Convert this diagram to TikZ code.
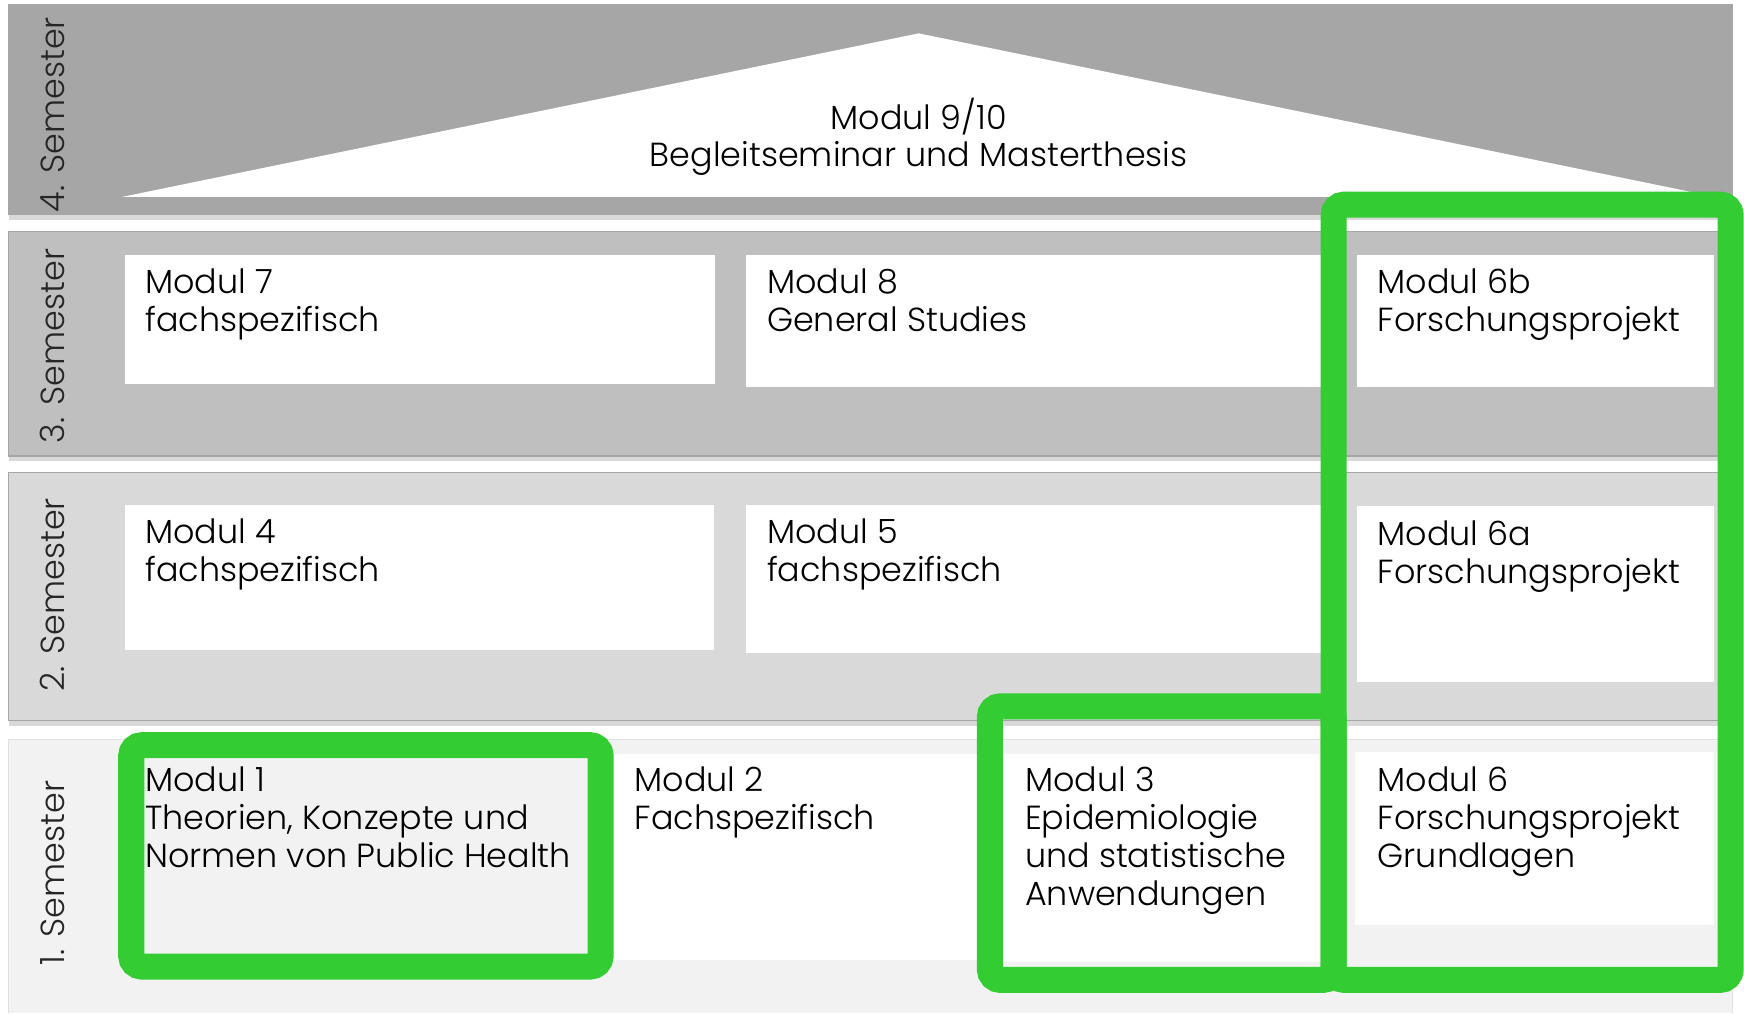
\documentclass[tikz,border=0pt]{standalone}
\usepackage{fontspec}
\setmainfont{Poppins}[UprightFont=* Light]
\usetikzlibrary{shadows}

\definecolor{semfour}{HTML}{A6A6A6}
\definecolor{semthree}{HTML}{BFBFBF}
\definecolor{semtwo}{HTML}{D9D9D9}
\definecolor{semone}{HTML}{F2F2F2}
\definecolor{hlgreen}{HTML}{33CC33}

\begin{document}
\begin{tikzpicture}[x=0.01112cm, y=-0.01112cm,
    band/.style={draw=black!35, line width=0.3pt,
      drop shadow={shadow xshift=0pt, shadow yshift=-1.5pt, opacity=0.3}},
    modbox/.style={fill=white},
    modtext/.style={anchor=north west, align=left, inner sep=0pt,
      font=\fontsize{9.5}{10.8}\selectfont, text=black},
    semtext/.style={rotate=90, inner sep=0pt,
      font=\fontsize{9.5}{11}\selectfont, text=black!85},
    hilite/.style={draw=hlgreen, line width=7.4pt, rounded corners=3pt}]
  \useasboundingbox (0,0) rectangle (1568,911);

  % semester bands
  \path[band, fill=semfour] (8,4) rectangle (1558,193);
  \path[band, fill=semthree] (8,208) rectangle (1558,410);
  \path[band, fill=semtwo] (8,425) rectangle (1558,648);
  \path[fill=semone] (8,665) rectangle (1558,911);
  \draw[black!12, line width=0.3pt] (8,911) -- (8,665) -- (1558,665) -- (1558,911);

  \node[semtext] (s4) at (47,103) {4. Semester};
  \node[semtext] (s3) at (47,311) {3. Semester};
  \node[semtext] (s2) at (47,535) {2. Semester};
  \node[semtext] (s1) at (47,785) {1. Semester};

  % roof
  \fill[white] (110,177) -- (826,30) -- (1542,177) -- cycle;
  \node[modtext, anchor=center, align=center] (m9) at (826,123)
    {Modul 9/10\\Begleitseminar und Masterthesis};

  % 3. semester
  \fill[modbox] (112,229) rectangle (643,345);
  \fill[modbox] (671,229) rectangle (1190,348);
  \fill[modbox] (1220,229) rectangle (1541,348);
  \node[modtext] (m7) at (130,241) {Modul 7\\fachspezifisch};
  \node[modtext] (m8) at (689,241) {Modul 8\\General Studies};
  \node[modtext] (m6b) at (1238,241) {Modul 6b\\Forschungsprojekt};

  % 2. semester
  \fill[modbox] (112,454) rectangle (642,584);
  \fill[modbox] (671,454) rectangle (1190,587);
  \fill[modbox] (1220,455) rectangle (1541,613);
  \node[modtext] (m4) at (130,466) {Modul 4\\fachspezifisch};
  \node[modtext] (m5) at (689,466) {Modul 5\\fachspezifisch};
  \node[modtext] (m6a) at (1238,468) {Modul 6a\\Forschungsprojekt};

  % 1. semester
  \fill[modbox] (548,678) rectangle (880,863);
  \fill[modbox] (900,678) rectangle (1190,865);
  \fill[modbox] (1218,676) rectangle (1541,832);
  \node[modtext] (m1) at (130,689) {Modul 1\\Theorien, Konzepte und\\Normen von Public Health};
  \node[modtext] (m2) at (570,689) {Modul 2\\Fachspezifisch};
  \node[modtext] (m3) at (921,689) {Modul 3\\Epidemiologie\\und statistische\\Anwendungen};
  \node[modtext] (m6) at (1238,689) {Modul 6\\Forschungsprojekt\\Grundlagen};

  % highlights
  \draw[hilite] (118,670) rectangle (540,869);
  \draw[hilite] (890,635) rectangle (1199,881);
  \draw[hilite] (1199,184) rectangle (1556,881);
\end{tikzpicture}
\end{document}
